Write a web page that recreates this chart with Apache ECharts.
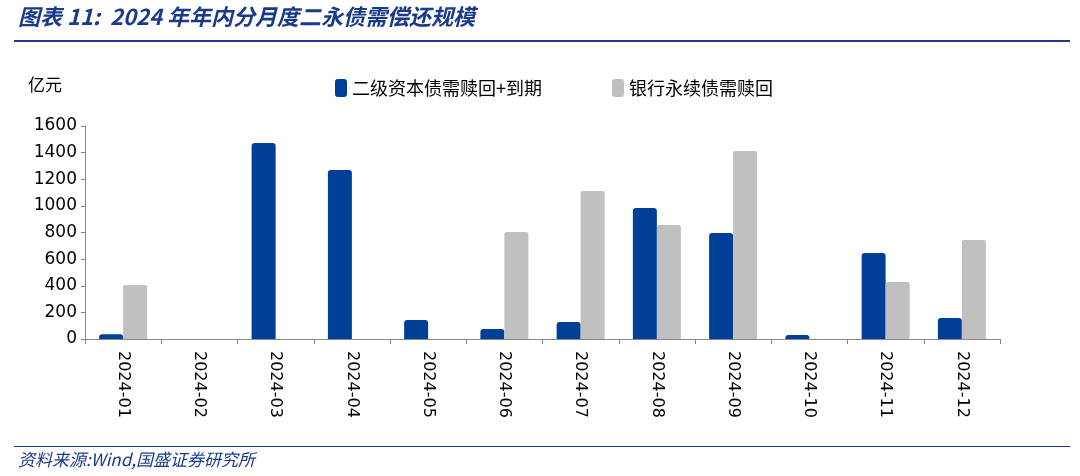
<!DOCTYPE html>
<html>
<head>
<meta charset="utf-8">
<script src="https://cdn.jsdelivr.net/npm/echarts@6/dist/echarts.min.js"></script>
<style>
body{margin:0;background:#fff;}
#chart{width:1080px;height:476px;}
</style>
</head>
<body>
<div id="chart"></div>
<script>
var categories = ['2024-01','2024-02','2024-03','2024-04','2024-05','2024-06','2024-07','2024-08','2024-09','2024-10','2024-11','2024-12'];
var tier2Values = [35, 0, 1472, 1270, 143, 75, 128, 984, 796, 30, 646, 158];
var perpValues = [406, 0, 0, 0, 0, 804, 1112, 856, 1412, 0, 428, 744];
var seriesNames = ['二级资本债需赎回+到期', '银行永续债需赎回'];

var chart = echarts.init(document.getElementById('chart'));
var cjk = '"Noto Sans CJK SC", sans-serif';
chart.setOption({
    animation: false,
    graphic: [
        {type:'text', left:18, top:6, style:{text:'图表 11:  2024 年年内分月度二永债需偿还规模', font:'italic bold 22px "Noto Sans CJK SC", sans-serif', fill:'#1a3a8a'}},
        {type:'rect', shape:{x:14, y:40, width:1056, height:2}, style:{fill:'#1a3a8a'}},
        {type:'text', left:28, top:76, style:{text:'亿元', font:'17px "Noto Sans CJK SC", sans-serif', fill:'#000'}},
        {type:'rect', shape:{x:14, y:446, width:1056, height:1}, style:{fill:'#1a3a8a'}},
        {type:'text', left:18, top:451, style:{text:'资料来源:Wind,国盛证券研究所', font:'italic 17px "Noto Sans CJK SC", sans-serif', fill:'#1a3a8a'}}
    ],
    legend: {
        top: 74, left: 330, itemGap: 70, itemWidth: 12, itemHeight: 18,
        textStyle: {fontFamily: cjk, fontSize: 18, color: '#000'},
        data: seriesNames
    },
    grid: {left: 85, right: 80, top: 126, bottom: 137},
    xAxis: {
        type: 'category', data: categories,
        axisLine: {lineStyle: {color: '#888'}},
        axisTick: {show: true, length: 5, lineStyle: {color: '#888'}},
        axisLabel: {rotate: -90, interval: 0, fontFamily: 'DejaVu Sans', fontSize: 16, color: '#000', margin: 12}
    },
    yAxis: {
        type: 'value', min: 0, max: 1600, interval: 200,
        splitLine: {show: false},
        axisLine: {show: true, lineStyle: {color: '#888'}},
        axisTick: {show: true, length: 4, lineStyle: {color: '#888'}},
        axisLabel: {fontFamily: 'DejaVu Sans', fontSize: 17, color: '#000', margin: 8,
                    formatter: function (v) { return String(v); }}
    },
    series: [
        {name: seriesNames[0], type: 'bar', data: tier2Values, barWidth: 24, barGap: '0%',
         itemStyle: {color: '#003f98', borderRadius: [3,3,0,0]}},
        {name: seriesNames[1], type: 'bar', data: perpValues, barWidth: 24,
         itemStyle: {color: '#c0c0c0', borderRadius: [2,2,0,0]}}
    ]
});
</script>
</body>
</html>
